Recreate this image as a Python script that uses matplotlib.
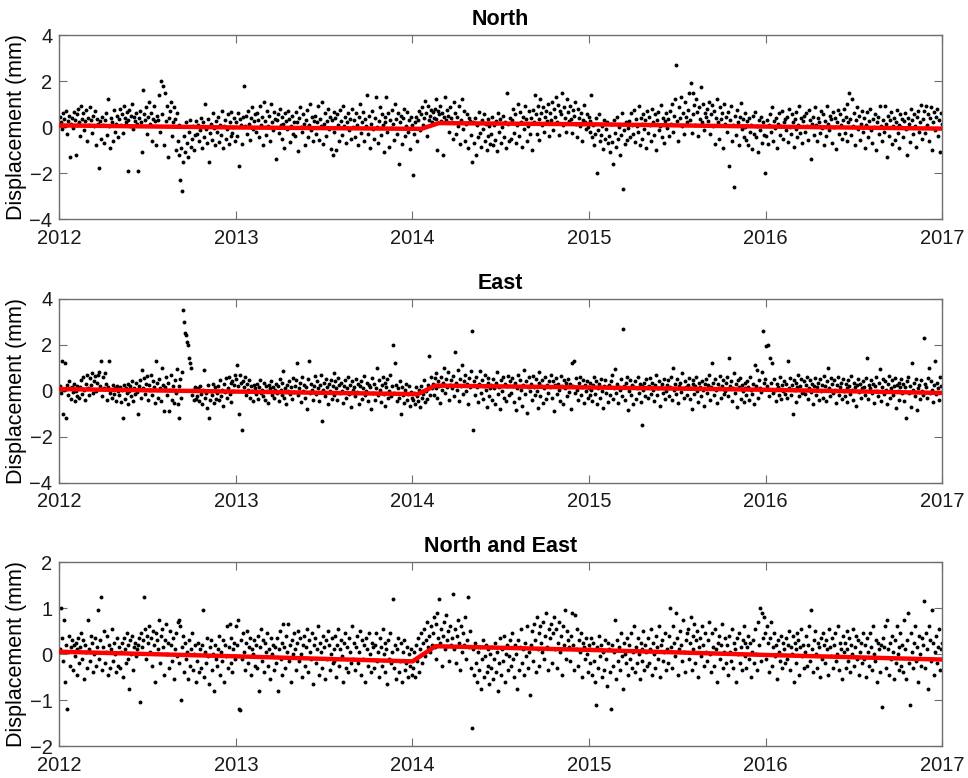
import matplotlib
matplotlib.use("Agg")
import matplotlib.pyplot as plt
import numpy as np

# daily-ish residual displacements, hundredths of mm, read panel by panel (2012 -> 2017)
north = [
    45, 20, -10, 60, 35, 5, 70, -30, 25, 50, -130, 15, 40, -5, 65, 30, -120, 10, 55, 80,
    20, -40, 90, 35, 60, -15, 25, 75, -60, 40, 10, 85, 30, -25, 50, 5, 70, -80, 35, 15,
    -180, 25, -50, 45, 10, -70, 30, 60, -35, 120, 5, -90, 40, 20, -60, 75, -20, 15, 50, -45,
    35, 80, 10, 55, -25, 90, 40, 20, 65, -190, 30, 75, 5, 50, 100, -10, 45, 25, 60, 15,
    -190, 40, 70, 20, -110, 160, 55, 30, 85, -30, 45, 110, 15, 60, -60, 35, 90, 25, -80, 50,
    30, 140, -20, 200, 55, 180, -80, 150, 25, 90, -130, 40, 70, 110, -40, 20, 85, 35, -100, 60,
    -60, -120, 10, -230, -90, -280, -150, -40, -110, 20, -70, -130, -20, 30, -85, -50, 5, -100, -35, 25,
    -30, 10, -60, -15, 40, -90, 20, -45, 100, -10, -70, 35, -150, -25, 15, -55, 60, -5, -80, 25,
    -20, 45, -65, 10, -35, 70, -90, 5, 30, -50, -10, 55, -75, 20, -40, 65, -25, 0, 40, -60,
    20, -40, 60, -170, 35, 10, -75, 45, 180, 5, 50, -30, 70, 15, -55, 40, 85, -10, 25, 55,
    -20, 60, 30, -45, 90, 10, 45, -80, 110, 25, -35, 70, 5, 50, -60, 100, 20, -15, 65, 35,
    -140, 30, 55, -25, 80, 10, -50, 45, 15, -90, 60, 25, -10, 70, 35, -65, 5, 50, -30, 20,
    -40, 65, 20, -105, 40, 85, 0, -20, 55, 15, -80, 30, 75, -45, 10, 100, -15, 45, -60, 25,
    50, -30, 20, 90, -55, 35, 5, 110, -75, 15, 60, -40, 25, 80, -10, 45, -95, 30, -120, 65,
    -20, 40, -100, 55, 10, -60, 75, 25, -35, 90, 5, 45, -70, 20, 60, -15, 35, -50, 80, 0,
    30, -45, 60, 10, -80, 45, 100, -25, 20, 65, -60, 35, 5, 140, -30, 50, -90, 15, 70, -10,
    -50, 40, 130, 0, -70, 25, 85, -35, 55, 10, -110, 45, 20, 130, -20, 60, -85, 30, -5, 75,
    15, -55, 100, 35, -30, 60, -160, 20, 50, -75, 40, 80, -40, 5, 65, -20, 30, -95, 45, 10,
    -210, -30, 20, 45, -60, 30, 70, -15, 55, 85, 10, 40, 115, 60, -40, 90, 30, 50, 75, 20,
    65, 40, 80, 120, 35, -100, 70, 55, 90, 25, 60, -120, 45, 130, 30, 75, 50, -20, 85, 40,
    20, -50, 110, 60, -30, 45, 5, 90, -75, 30, 120, -10, 70, -60, 15, 55, -90, 40, 25, -35,
    -150, 20, -70, 40, -120, 10, -45, 65, -25, -85, 30, -10, 55, -60, 15, -100, 35, -40, 5, -75,
    -30, 45, -80, 10, -55, 25, -105, 60, -20, 35, -70, 0, 50, -45, 20, -90, 150, 15, -60, 40,
    -50, 30, 80, -25, 55, -70, 10, 100, -40, 65, 20, -85, 45, -10, 90, 35, -60, 5, 70, -30,
    40, -100, 75, 20, 140, 55, -30, 90, 35, -55, 120, 60, 10, 85, -20, 45, 70, 25, 100, -40,
    60, 30, 110, -15, 80, 45, 130, 20, 95, -35, 70, 55, 150, 10, 85, 40, -20, 120, 65, 25,
    90, 35, -25, 75, 50, 110, 15, -45, 80, 40, 5, 60, -60, 30, 95, 20, -10, 55, 0, 45,
    -20, 25, 140, -45, 10, -80, -30, 40, -200, -15, 55, -60, -35, 5, -95, 30, -50, -10, 20, -70,
    -40, -110, 15, -65, -160, 30, -25, -85, 45, -50, 0, -120, -35, 60, -270, -15, -75, 20, -55, -5,
    25, -45, 60, 10, -30, 75, -65, 35, 5, -20, 90, -80, 40, 15, -50, 55, -10, 30, -90, 70,
    -25, 45, 10, -60, 80, 20, -35, 55, -100, 30, 65, -15, 5, 95, -45, 40, -70, 25, 60, -5,
    35, -40, 70, 15, 100, -20, 50, 120, 270, 25, -60, 85, 40, 130, 5, 60, -30, 110, 45, 20,
    75, 150, 30, 190, -25, 150, 55, 95, 10, 120, 65, -40, 85, 35, 175, 20, 100, -15, 60, 45,
    80, 25, 110, -30, 55, 95, 5, 70, -75, 40, 120, 20, -50, 85, 35, 60, -90, 100, 15, 45,
    -20, 65, -170, 30, 90, -60, 10, -260, 50, -35, 75, 20, -80, 45, 105, -10, 35, -45, 60, 0,
    -55, 25, -80, 40, -20, 10, -95, 50, -30, 65, -45, 5, -110, 30, -15, 45, -70, 20, -35, -200,
    -40, 30, -75, 10, 55, -20, 85, -60, 25, -5, 40, -90, 15, 60, -35, 5, 70, -50, 20, 35,
    -15, 45, -65, 80, 0, -30, 55, 20, -85, 35, -10, 65, -45, 10, 90, -25, 40, -70, 25, 50,
    -20, 60, 5, -55, 75, 30, -140, 15, 45, -35, 85, 10, -60, 40, 20, -25, 70, -5, 55, -80,
    25, -40, 90, 15, -15, 50, 35, -70, 65, 0, 40, -95, 20, 75, -30, 55, 10, -50, 30, 80,
    -25, 45, 100, -60, 20, 150, 35, -35, 120, 5, 60, -80, 30, 85, -10, 50, -55, 15, 70, -20,
    40, -90, 10, 65, -45, 25, 80, -15, -70, 35, 0, 55, -100, 20, 45, -30, 90, 5, -60, 30,
    -20, 90, 15, -130, 50, -40, 30, 65, -75, 5, 40, -55, 20, 75, -25, 10, -90, 55, 0, 35,
    -45, 25, 60, -10, -120, 40, 15, -65, 80, 30, -30, 55, 5, -85, 45, 70, -20, 20, 95, -50,
    35, 70, -25, 90, 10, 55, -60, 40, 85, -100, 20, 65, -15, 45, 80, -40, 30, -110, 60, 15,
]

east = [
    20, -10, 130, -100, 5, 120, -120, 25, -20, 40, 10, -35, 15, -5, 30, -45, 0, 20, -25, 10,
    -30, 15, 45, -15, 60, 5, -40, 30, 70, 10, -20, 55, 25, 75, -10, 40, 65, 0, 35, 70,
    80, 20, 130, -25, 60, 10, 75, 30, -40, 15, 130, -10, 5, -30, 25, -15, 10, -45, 20, 0,
    -20, 15, -50, 5, -120, 25, -35, 10, -10, 30, -60, 0, 20, -25, 40, -45, 10, -15, 35, -5,
    -100, 20, 45, -30, 90, 10, 55, -15, 30, 65, -40, 25, 5, 70, -20, 40, 15, -55, 130, 35,
    -30, 50, 10, -45, 100, 25, -90, 15, 60, -20, 35, -90, 5, 70, -40, 20, -55, 45, -10, 95,
    -60, 20, -120, 50, -30, 80, 350, 300, 250, 240, 210, 200, 140, 120, 100, -20, 5, -40, 15, -35,
    -25, 10, -45, 20, -15, -60, 5, 90, -30, -10, -75, 25, -120, -40, 0, -20, 30, -55, 15, -35,
    -10, 20, -40, 45, -25, 5, -65, 30, -5, 55, -30, 10, 60, -15, 35, -50, 40, 0, 25, 70,
    50, 110, 20, -100, 70, 35, -170, 40, 15, 60, -20, 30, 5, 45, -30, 20, 0, -45, 25, 10,
    -15, 30, -35, 15, 45, -10, 5, -25, 35, -40, 20, 0, -55, 25, 10, 40, -20, 15, -30, 5,
    30, -10, 20, -45, 50, 5, -20, 35, 85, -30, 10, -60, 25, 0, 40, -15, 15, -35, 55, -5,
    20, 45, 120, -20, 10, 35, -50, 60, 0, 25, -30, 15, -80, 50, 130, -10, 30, 5, -40, 20,
    65, -15, 40, 10, -45, 25, 70, -130, 5, 35, -25, 50, 15, -60, 30, 0, 45, -35, 20, 75,
    -20, 40, 10, -40, 55, 25, -10, 35, 0, -55, 20, 45, -30, 10, 60, -15, 25, -70, 40, 5,
    15, -25, 50, -5, 30, -60, 20, 40, -35, 10, 65, -20, 0, 35, -45, 25, 15, -80, 55, -10,
    30, -40, 10, 100, -20, 45, 5, -50, 25, 60, -15, 35, -65, 15, 50, -30, 0, 70, -25, 20,
    200, -10, 120, 25, -45, 10, -30, 40, -100, 15, -20, -55, 5, 30, -40, -15, 20, -65, -5, -30,
    -40, -10, -60, 15, -25, -45, 5, -70, 20, -30, -15, 45, -50, 0, -35, 25, 150, -20, 60, 10,
    30, -20, 55, 10, 75, -30, 40, 20, -55, 60, 5, 35, 100, -10, 50, 15, 80, -40, 25, 45,
    10, 65, -25, 170, 35, 5, 90, -45, 50, 20, 110, -15, 40, 70, 0, 30, -60, 55, 15, 85,
    260, -170, 40, -20, 60, 15, -50, 30, 85, -10, 45, -35, 20, 70, 5, -70, 35, 55, -25, 10,
    25, -40, 50, 10, -60, 35, 80, -15, 15, -80, 45, 0, 60, -30, 30, -45, 20, 65, -20, 40,
    -10, 55, 20, -50, 35, -85, 10, 70, -30, 45, 5, -65, 25, 90, -15, 40, -95, 15, 60, 0,
    30, -40, 65, 15, -20, 50, 0, -75, 35, 80, -25, 20, 45, -55, 10, 60, -35, 25, -10, 40,
    15, 70, -30, 40, -90, 25, 55, -15, 30, 5, -45, 65, 20, -60, 45, 10, 35, -25, 50, -5,
    30, -80, 120, 20, 130, -10, 55, 5, -40, 35, 60, -20, 15, 45, -55, 25, 0, 40, -30, 10,
    -20, 35, 5, -45, 25, 60, -15, 40, -60, 10, 30, -30, 50, 0, -75, 20, 45, -10, 15, -50,
    25, -20, 40, 70, -35, 10, 95, -10, 30, -55, 15, 5, 50, -25, 270, 20, -40, 35, 60, -85,
    0, 45, -20, 25, -60, 15, 40, -35, 10, 60, -10, 30, -50, 20, -150, 5, 35, -25, 50, 15,
    -30, 20, 55, -15, 35, 5, -45, 25, 70, -20, 10, 40, -65, 15, 30, -10, 50, -35, 0, 25,
    45, -25, 15, 60, -40, 100, 5, 30, -15, 50, -55, 20, 35, -5, 75, 10, -30, 40, 15, -20,
    25, 55, -35, 10, -80, 30, 45, -15, 20, 60, 0, -50, 35, 15, -25, 40, 5, -65, 30, 50,
    -10, 25, 70, -40, 15, 120, 35, -20, 50, 5, -55, 30, 10, 65, -30, 20, 45, -15, 0, 35,
    60, -25, 140, 20, 40, -45, 10, 75, -10, 30, -70, 45, 15, 55, -35, 25, 0, -50, 35, 10,
    -20, 40, 15, -40, 60, 5, -15, 30, -60, 110, 20, 90, -30, 45, 10, -5, 80, 260, 35, 50,
    195, 20, 200, -25, 140, 35, 120, -10, 50, 5, -45, 30, 15, -20, 60, -35, 25, 0, 40, -15,
    30, -30, 130, 10, 55, -20, 25, -100, 45, 5, -50, 35, 15, 70, -25, 20, 50, -10, 0, 40,
    -15, 25, 60, -35, 10, 45, -5, 30, -60, 20, 55, -20, 15, 35, -40, 50, 0, 25, -30, 65,
    20, -45, 40, 100, 10, -25, 55, 30, -10, 45, 5, -55, 25, 60, -20, 15, 35, -35, 50, 0,
    -25, 30, 10, -50, 45, 20, -15, 65, 5, -40, 35, 15, -65, 25, 50, -5, 30, -30, 10, 40,
    15, -20, 55, 140, -35, 25, 10, 45, -10, 30, -55, 20, 60, 0, -25, 35, 95, -45, 15, 50,
    -15, 40, 5, -60, 30, 65, -30, 10, 45, -20, 20, 55, -75, 25, 0, 35, -40, 15, 50, -10,
    30, -45, 15, -120, 40, 60, -10, 20, -70, 120, 5, 35, -25, 50, -85, 10, 25, -35, 45, 0,
    -20, 230, 30, 15, -30, 55, 100, -10, 40, 5, -50, 25, 130, -15, 35, 10, -40, 60, 20, -5,
]

north_east = [
    10, 100, 35, -15, 75, -60, 20, -120, 5, 40, -25, 15, 30, -35, 20, -5, 25, -45, 10, 35,
    -20, 15, 45, -10, 30, -55, 20, 5, -30, 75, 10, -15, 40, 25, -40, 0, 35, -25, 15, 95,
    -10, 30, 125, -35, 15, 50, -20, 5, 40, -45, 20, -30, 10, 55, -15, 25, 0, -40, 35, -25,
    15, -30, 5, 25, -50, 35, 10, -20, 45, -10, 20, -75, 30, 0, 40, -35, 15, 25, -5, 10,
    20, 35, -105, 45, 15, 30, 125, 55, -10, 40, 25, 60, 5, 35, -25, 50, 20, -60, 45, 30,
    10, 75, -20, 40, 55, 15, -45, 30, 65, 0, 25, -30, 50, 20, -15, 35, -55, 10, 45, -5,
    70, -20, 75, 60, -100, 15, 40, -40, 25, -10, 5, -55, 30, -25, 10, 45, -35, 0, 20, -60,
    -15, 25, -40, 10, -30, 20, 95, -50, 5, -20, 35, -5, -65, 15, 30, -35, 0, -80, 20, -10,
    -25, 10, 40, -45, 5, -15, 30, -60, 20, -5, 60, -30, 15, 65, -20, 35, -40, 10, 25, -10,
    60, 20, 75, -120, -122, 30, -10, 45, 5, -35, 25, 50, -20, 15, 35, -45, 10, 0, 30, -25,
    20, -30, 40, -80, 15, 55, -15, 30, -40, 25, 5, 45, -25, 10, -55, 35, 0, 20, -35, 15,
    -20, 35, -80, 10, 50, -10, 25, -45, 65, 15, -30, 40, 5, 65, -15, 20, -60, 30, 0, 45,
    10, -35, 25, 50, -15, 35, 0, -50, 20, 40, -25, 15, 55, -40, 30, 5, -10, 45, -65, 20,
    35, -20, 10, 60, -45, 25, 5, -30, 40, 15, -55, 30, -10, 50, 20, -35, 0, 35, -20, 10,
    -15, 40, -50, 20, 55, -25, 10, 30, -5, -60, 25, 45, -30, 15, -40, 35, 5, -20, 60, -10,
    25, -35, 15, 40, -20, 5, 50, -45, 30, -10, 20, -60, 35, 10, -25, 45, 0, -40, 25, 15,
    -30, 20, 45, -15, 5, -50, 35, 15, -25, 55, 0, -40, 25, 10, -65, 30, -10, 45, -20, 5,
    120, -30, 20, -55, 10, 35, -40, -15, 25, -60, 5, 30, -35, -20, 15, -50, 0, -25, 10, -45,
    -30, 5, -50, 20, -15, 35, -40, 10, 45, -20, 25, 55, -5, 30, 70, 15, 40, 5, 60, 20,
    45, 80, 15, 65, -10, 90, 35, 120, 25, 55, -25, 40, 70, 10, 85, 30, 50, -15, 60, 20,
    35, 130, 10, 55, -20, 40, 75, 25, -35, 60, 5, 45, 20, 80, -10, 30, 125, 15, 50, -30,
    -160, 10, -45, 25, -20, -60, 5, -35, 15, -75, -10, 30, -50, -5, 20, -40, -25, 10, -65, 0,
    -30, 15, -55, -10, 25, -40, 5, -80, -20, 35, -45, 10, -15, 40, -60, 0, 20, -35, -5, 30,
    -25, 45, -10, -50, 20, 0, -75, 30, -35, 15, 55, -20, 10, -45, 25, -5, 60, -30, 5, -90,
    20, 50, -15, 65, 30, -40, 80, 10, 45, -25, 60, 25, 5, 70, -10, 40, 90, 15, -35, 55,
    35, 65, -20, 45, 80, 10, 55, -30, 25, 70, 5, 40, -45, 60, 20, 95, -10, 50, 30, 15,
    -15, 40, 90, 20, -35, 85, 10, 55, -25, 30, 5, 45, -50, 25, 15, -10, 35, 0, -40, 20,
    -20, 10, 35, -45, 25, -15, -60, -110, 15, -30, 40, -5, 20, -50, 5, -35, 30, -10, -70, 25,
    10, -40, -120, 20, -25, 5, 75, -55, 30, -15, 15, -35, 45, -5, -75, 25, 0, -20, 35, -45,
    20, -10, 45, -30, 5, 60, -40, 15, -20, 35, 0, -55, 25, 10, -15, 50, -35, 20, 5, -25,
    35, -20, 10, 55, -45, 25, 0, -30, 40, 15, -10, 60, -50, 20, 30, -15, 5, 45, -35, 10,
    -20, 40, 100, 15, -30, 60, 25, -5, 90, 35, -45, 10, 50, 20, -15, 75, 5, -40, 30, 45,
    55, -10, 25, 80, -35, 40, 10, 65, -20, 30, 50, -50, 15, 35, -5, 60, 20, -25, 45, 5,
    -15, 30, 70, 0, -40, 45, 15, -25, 55, 10, -60, 25, 40, -10, 20, 65, -30, 5, 35, -20,
    20, -45, 40, 5, -15, 55, -30, 25, 10, -60, 35, 0, 45, -20, 15, -35, 30, 60, -5, 25,
    -30, 15, 40, -10, 25, -50, 5, 30, -20, 55, 0, -35, 70, 20, 100, -15, 90, 35, 80, 45,
    -10, 60, 25, -40, 35, 70, -25, 15, 45, -5, 20, -55, 30, 5, -15, 40, -30, 25, 10, -20,
    35, -10, 20, 50, -35, 15, 0, 40, -60, 25, 10, -20, 45, 30, -45, 15, 55, -5, 20, -30,
    5, 40, -25, 20, 60, -15, 95, 10, -40, 30, 50, 0, -30, 25, 15, -50, 35, -10, 45, 20,
    -20, 30, 10, -45, 55, 15, -5, 35, -30, 20, 45, -15, 0, 60, -35, 25, 10, -55, 40, 5,
    25, -30, 50, 10, -15, 35, -40, 20, 0, 55, -25, 15, 40, -10, 30, -45, 5, 25, -20, 45,
    -10, 20, -50, 35, 5, -25, 45, 15, -35, 60, 0, -15, 30, -60, 25, 10, -40, 20, -115, 35,
    15, 60, -30, 75, 10, -45, 25, -10, 40, 5, -55, 30, -20, 60, 0, -35, 15, 45, -25, 20,
    -40, 75, 10, -55, 30, 90, -20, -110, 45, 5, -30, 25, 60, -15, 15, -60, 40, 0, -25, 35,
    20, 115, -30, 45, 10, -75, 60, 30, -15, 95, 25, -45, 5, 40, -20, 15, 55, -35, 10, 25,
]

# piecewise-linear trend (mm) at knot times
north_trend_t = [2012.0, 2013.0, 2014.05, 2014.15, 2015.0, 2016.0, 2017.0]
north_trend_v = [0.07, -0.02, -0.08, 0.17, 0.12, 0.02, -0.07]
east_trend_t = [2012.0, 2013.0, 2014.03, 2014.13, 2015.0, 2016.0, 2017.0]
east_trend_v = [0.07, -0.04, -0.15, 0.22, 0.14, 0.04, -0.10]
ne_trend_t = [2012.0, 2013.0, 2014.0, 2014.13, 2015.0, 2016.0, 2017.0]
ne_trend_v = [0.05, -0.05, -0.16, 0.17, 0.09, -0.02, -0.12]

titles = ["North", "East", "North and East"]
ylims = [(-4, 4), (-4, 4), (-2, 2)]
yticks = [[-4, -2, 0, 2, 4], [-4, -2, 0, 2, 4], [-2, -1, 0, 1, 2]]
years = [2012, 2013, 2014, 2015, 2016, 2017]

plt.rcParams["font.family"] = ["Liberation Sans", "DejaVu Sans"]

fig = plt.figure(figsize=(9.68, 7.78), dpi=100)
frame = "#6e6e6e"
left, width, height = 0.0613, 0.912, 0.2365
bottoms = [0.7185, 0.3796, 0.0411]

panels = [
    (north, north_trend_t, north_trend_v),
    (east, east_trend_t, east_trend_v),
    (north_east, ne_trend_t, ne_trend_v),
]

for k, (vals, tt, tv) in enumerate(panels):
    ax = fig.add_axes([left, bottoms[k], width, height])
    y = np.array(vals) / 100.0
    step = 5.0 / len(y)
    x = 2012 + step * (np.arange(len(y)) + 0.5)
    ax.plot(x, y, "o", ms=2.8, mew=0, color="black", zorder=2)
    ax.plot(tt, tv, "-", color="#ff0000", lw=3.2, zorder=3)

    ax.set_xlim(2012, 2017)
    ax.set_ylim(*ylims[k])
    ax.set_xticks(years)
    ax.set_xticklabels([str(v) for v in years])
    ax.set_yticks(yticks[k])
    ax.set_title(titles[k], fontsize=15.5, fontweight="bold", pad=7)
    ax.set_ylabel("Displacement (mm)", fontsize=15.5, labelpad=2)
    ax.tick_params(direction="in", length=6, width=0.8, color=frame,
                   top=True, right=True, labelsize=14.5, labelcolor="#1a1a1a")
    ax.tick_params(axis="x", pad=7)
    ax.tick_params(axis="y", pad=5)
    for s in ax.spines.values():
        s.set_color(frame)
        s.set_linewidth(1.0)

fig.savefig("out.png", dpi=100)
